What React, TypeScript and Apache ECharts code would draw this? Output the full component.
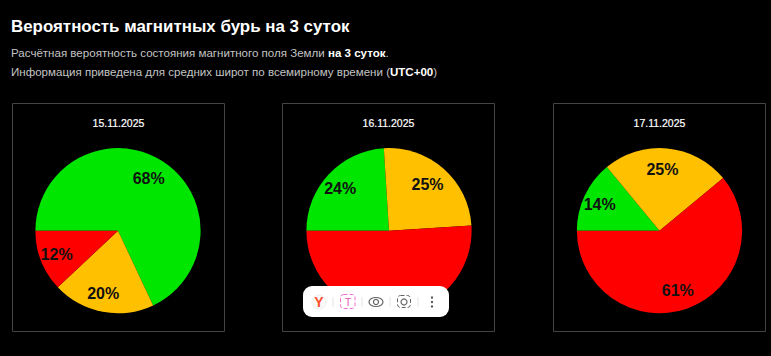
import React, { useEffect, useRef } from "react";
import * as echarts from "echarts";

const titleText = "Вероятность магнитных бурь на 3 суток";
const dates = ["15.11.2025", "16.11.2025", "17.11.2025"];
const categories = ["Спокойно", "Возмущение", "Буря"];
const quiet = [68, 24, 14];
const unsettled = [20, 25, 25];
const storm = [12, 51, 61];
const showLabel = [[true, true, true], [true, true, false], [true, true, true]];
const colors = ["#00e600", "#ffc000", "#ff0000"];
const centersX = [118, 389, 659.5];
const panelsX = [12.5, 282.5, 553.5];

export default function App() {
  const ref = useRef<HTMLDivElement>(null);
  useEffect(() => {
    document.body.style.margin = "0";
    document.body.style.background = "#000";
    const chart = echarts.init(ref.current!, null, { renderer: "svg" });
    const series: any[] = [];
    dates.forEach((_, i) => {
      const data = categories.map((name, k) => ({
        name,
        value: [quiet, unsettled, storm][k][i],
        itemStyle: { color: colors[k] },
      }));
      const base = {
        type: "pie",
        center: [centersX[i], 230.7],
        startAngle: 180,
        clockwise: true,
        silent: true,
        animation: false,
      };
      series.push({
        ...base,
        radius: [0, 82.6],
        label: { show: false },
        labelLine: { show: false },
        data,
      });
      series.push({
        ...base,
        radius: [37, 82.6],
        z: 3,
        labelLine: { show: false },
        label: {
          show: true,
          position: "inside",
          offset: [-3, 1],
          formatter: "{c}%",
          fontFamily: "Liberation Sans",
          fontWeight: "bold",
          fontSize: 16,
          color: "#111",
        },
        data: data.map((d, k) => ({
          name: d.name,
          value: d.value,
          itemStyle: { color: "transparent" },
          label: { show: showLabel[i][k] },
        })),
      });
    });
    const panels = panelsX.map((x) => ({
      type: "rect",
      shape: { x, y: 103.5, width: 212, height: 228 },
      style: { fill: "none", stroke: "#444", lineWidth: 1 },
      z: 0,
    }));
    const sans = "'Liberation Sans'";
    const dateTexts = dates.map((d, i) => ({
      type: "text",
      style: {
        x: panelsX[i] + 106,
        y: 123,
        text: d,
        fill: "#fff",
        font: `10.5px ${sans}`,
        stroke: "#fff",
        lineWidth: 0.2,
        align: "center",
        verticalAlign: "middle",
      },
    }));
    const gray = "#c4c4c4";
    const Z = 100;
    const divider = (x: number) => ({ type: "line", z: Z, shape: { x1: x, y1: 297, x2: x, y2: 307 }, style: { stroke: "#e4e4e4" } });
    const toolbar = {
      type: "group",
      children: [
        { type: "rect", z: Z - 1, shape: { x: 303, y: 286, width: 146, height: 31, r: 9 }, style: { fill: "#fff" } },
        { type: "circle", z: Z, shape: { cx: 319, cy: 302, r: 7 }, style: { fill: "#fafafa", stroke: "#f0f0f0" } },
        { type: "text", z: Z + 1, style: { x: 319, y: 302, text: "Y", fill: "#ff5030", font: `bold 14px ${sans}`, align: "center", verticalAlign: "middle" } },
        divider(333),
        { type: "rect", z: Z, shape: { x: 340.5, y: 294.5, width: 14.5, height: 14, r: 3 }, style: { fill: "none", stroke: "#f46cd0", lineWidth: 1, lineDash: [4, 2] } },
        { type: "text", z: Z, style: { x: 348, y: 302, text: "T", fill: "#e85cc0", font: `11px ${sans}`, align: "center", verticalAlign: "middle" } },
        divider(362),
        { type: "ellipse", z: Z, shape: { cx: 376, cy: 302, rx: 7, ry: 4.5 }, style: { fill: "none", stroke: "#666", lineWidth: 1.2 } },
        { type: "circle", z: Z, shape: { cx: 376, cy: 302, r: 2.5 }, style: { fill: "none", stroke: "#666", lineWidth: 1.2 } },
        divider(390),
        { type: "rect", z: Z, shape: { x: 397.5, y: 295.5, width: 13, height: 12, r: 3 }, style: { fill: "none", stroke: "#666", lineWidth: 1, lineDash: [4, 2] } },
        { type: "circle", z: Z, shape: { cx: 404, cy: 302, r: 3 }, style: { fill: "none", stroke: "#666", lineWidth: 1.2 } },
        divider(418),
        { type: "circle", z: Z, shape: { cx: 432, cy: 297.5, r: 1.2 }, style: { fill: "#555" } },
        { type: "circle", z: Z, shape: { cx: 432, cy: 302, r: 1.2 }, style: { fill: "#555" } },
        { type: "circle", z: Z, shape: { cx: 432, cy: 306.5, r: 1.2 }, style: { fill: "#555" } },
      ],
    };
    chart.setOption({
      animation: false,
      backgroundColor: "#000",
      series,
      graphic: [
        ...panels,
        ...dateTexts,
        {
          type: "text",
          style: { x: 11, y: 26, text: titleText, fill: "#fff", font: `bold 16.9px ${sans}`, verticalAlign: "middle" },
        },
        {
          type: "text",
          style: {
            x: 11,
            y: 53,
            verticalAlign: "middle",
            text: "{a|Расчётная вероятность состояния магнитного поля Земли }{b|на 3 суток}{a|.}",
            rich: {
              a: { fill: gray, font: `11.55px ${sans}` },
              b: { fill: "#fff", font: `bold 11.55px ${sans}` },
            },
          },
        },
        {
          type: "text",
          style: {
            x: 11,
            y: 72,
            verticalAlign: "middle",
            text: "{a|Информация приведена для средних широт по всемирному времени (}{b|UTC+00}{a|)}",
            rich: {
              a: { fill: gray, font: `11.55px ${sans}` },
              b: { fill: "#fff", font: `bold 11.55px ${sans}` },
            },
          },
        },
        toolbar,
      ],
    });
    return () => chart.dispose();
  }, []);
  return <div ref={ref} style={{ width: 771, height: 356 }} />;
}
